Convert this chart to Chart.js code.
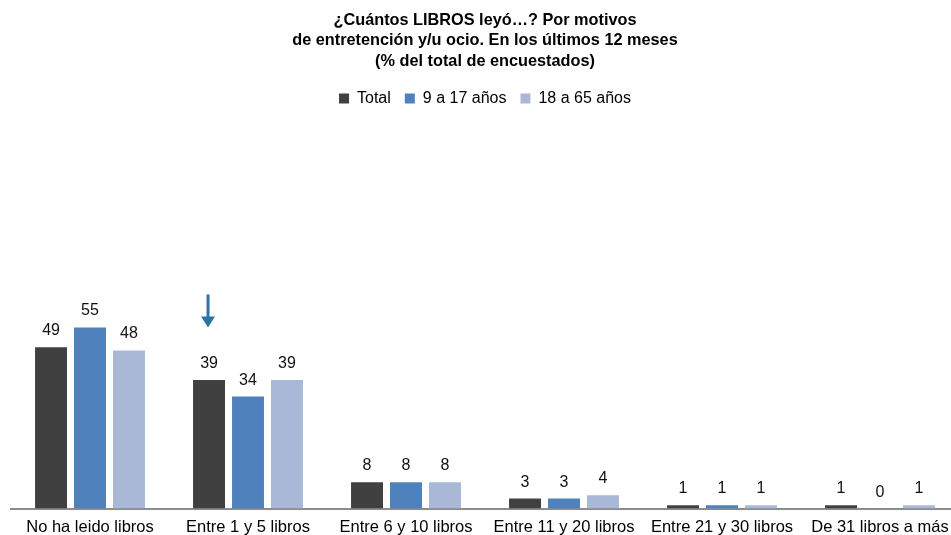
<!DOCTYPE html>
<html>
<head>
<meta charset="utf-8">
<script src="https://cdn.jsdelivr.net/npm/chart.js@4"></script>
<style>
  html, body { margin: 0; padding: 0; background: #fff; overflow: hidden; }
  #wrap { width: 975px; height: 535px; }
</style>
</head>
<body>
<div id="wrap"><canvas id="librosChart" width="975" height="535"></canvas></div>
<script>
// Datos: % del total de encuestados
const categorias = ["No ha leido libros", "Entre 1 y 5 libros", "Entre 6 y 10 libros",
  "Entre 11 y 20 libros", "Entre 21 y 30 libros", "De 31 libros a más"];
const total = [49, 39, 8, 3, 1, 1];
const edad9a17 = [55, 34, 8, 3, 1, 0];
const edad18a65 = [48, 39, 8, 4, 1, 1];

const FONT = "'Liberation Sans', Arial, Helvetica, sans-serif";

// etiquetas de valor encima de cada barra
const valueLabels = {
  id: "valueLabels",
  afterDatasetsDraw(chart) {
    const ctx = chart.ctx;
    ctx.save();
    ctx.font = "16px " + FONT;
    ctx.fillStyle = "#111";
    ctx.textAlign = "center";
    ctx.textBaseline = "alphabetic";
    chart.data.datasets.forEach((ds, i) => {
      chart.getDatasetMeta(i).data.forEach((bar, j) => {
        ctx.fillText(String(ds.data[j]), bar.x, bar.y - 12);
      });
    });
    ctx.restore();
  }
};

// flecha sobre "Entre 1 y 5 libros" (Total)
const flecha = {
  id: "flecha",
  afterDatasetsDraw(chart) {
    const bar = chart.getDatasetMeta(0).data[1];
    const y = chart.scales.y;
    const x = bar.x - 1;
    const y0 = y.getPixelForValue(65);
    const y1 = y.getPixelForValue(55);
    const ctx = chart.ctx;
    ctx.save();
    ctx.strokeStyle = "#2e74a3";
    ctx.fillStyle = "#2e74a3";
    ctx.lineWidth = 3;
    ctx.beginPath();
    ctx.moveTo(x, y0);
    ctx.lineTo(x, y1 - 9);
    ctx.stroke();
    ctx.beginPath();
    ctx.moveTo(x - 7, y1 - 11);
    ctx.lineTo(x + 7, y1 - 11);
    ctx.lineTo(x, y1);
    ctx.closePath();
    ctx.fill();
    ctx.restore();
  }
};

new Chart(document.getElementById("librosChart"), {
  type: "bar",
  data: {
    labels: categorias,
    datasets: [
      { label: "Total", data: total, backgroundColor: "#404040" },
      { label: "9 a 17 años", data: edad9a17, backgroundColor: "#4f81bd" },
      { label: "18 a 65 años", data: edad18a65, backgroundColor: "#a9b8d7" }
    ]
  },
  options: {
    responsive: false,
    animation: false,
    categoryPercentage: 0.74,
    barPercentage: 0.82,
    layout: { padding: { left: 11, right: 16, top: 0, bottom: -12 } },
    plugins: {
      title: {
        display: true,
        text: ["¿Cuántos LIBROS leyó…? Por motivos",
          "de entretención y/u ocio. En los últimos 12 meses",
          "(% del total de encuestados)"],
        color: "#000",
        font: { family: FONT, size: 16.3, weight: "bold", lineHeight: 1.26 },
        padding: { top: 10, bottom: 5 }
      },
      legend: {
        labels: {
          color: "#000",
          font: { family: FONT, size: 16 },
          boxWidth: 10,
          boxHeight: 10,
          padding: 14
        }
      },
      tooltip: { enabled: false }
    },
    scales: {
      x: {
        grid: { display: false, drawTicks: false },
        border: { display: true, color: "#8c8c8c", width: 2 },
        ticks: {
          color: "#000",
          font: { family: FONT, size: 16.5, lineHeight: 1.0 },
          padding: 11,
          autoSkip: false,
          maxRotation: 0
        }
      },
      y: {
        display: false,
        min: 0,
        max: 119
      }
    }
  },
  plugins: [valueLabels, flecha]
});
</script>
</body>
</html>
